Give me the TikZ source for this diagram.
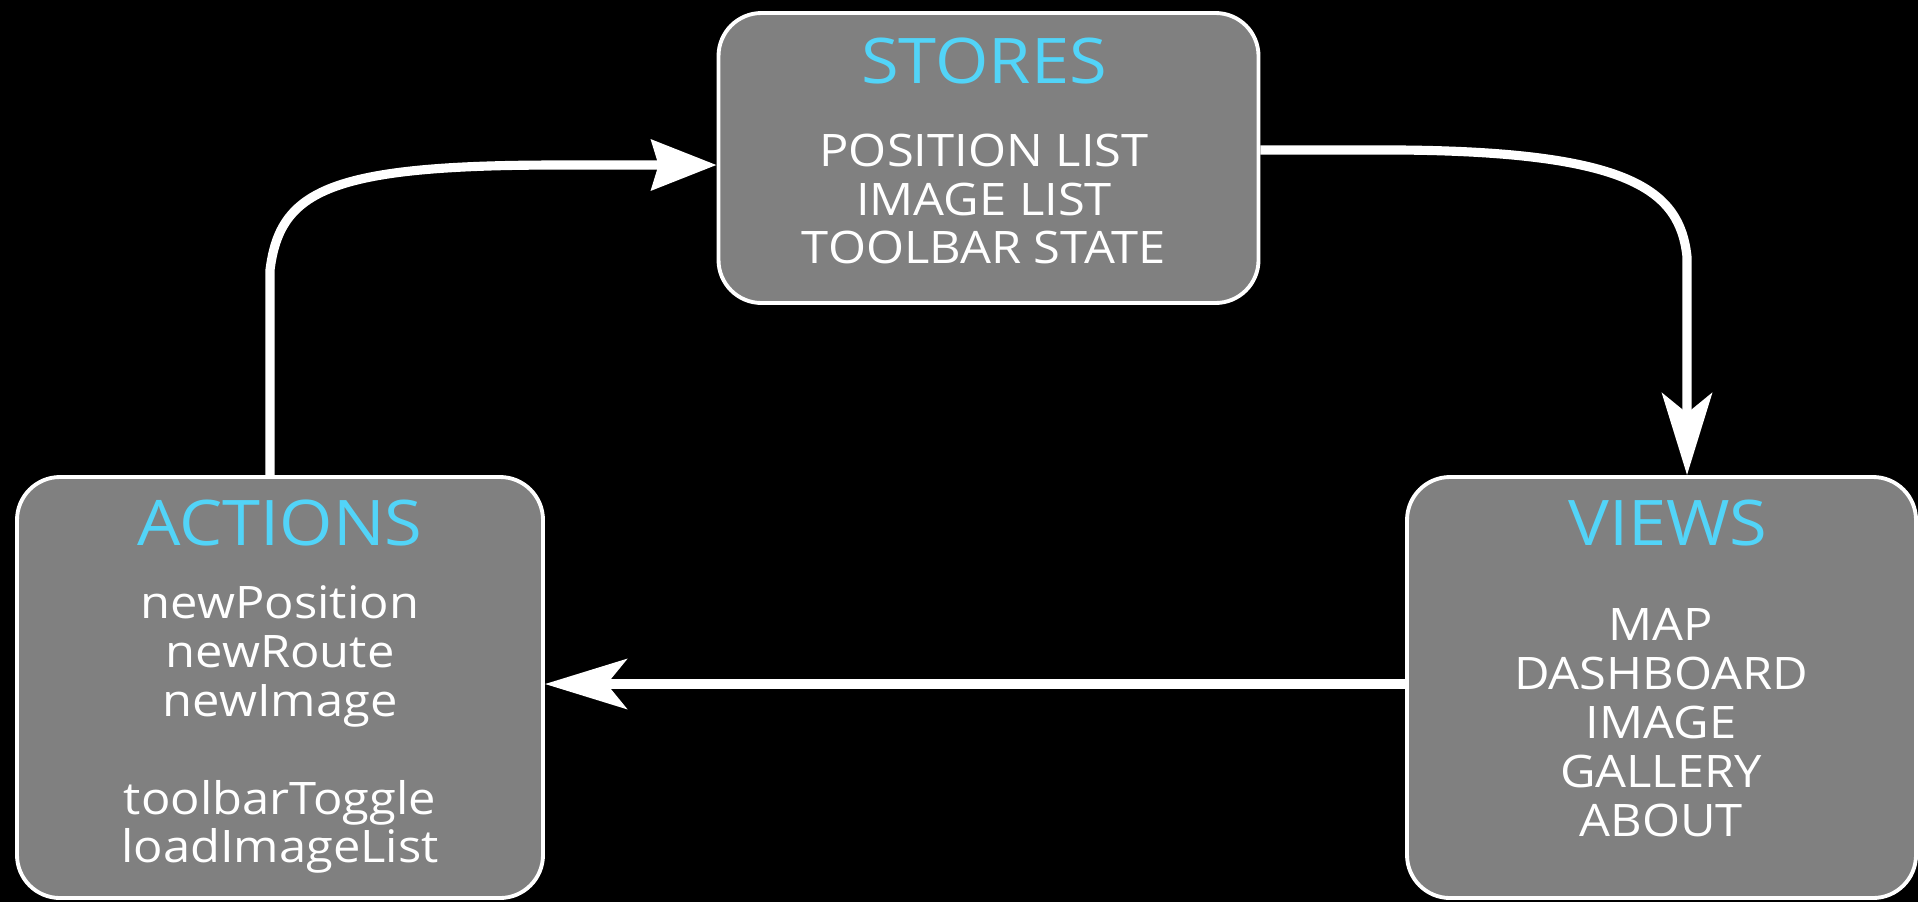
\documentclass[tikz,border=0pt]{standalone}
\usepackage{fontspec}
\setmainfont{Open Sans}[FakeStretch=1.09]
\usetikzlibrary{arrows.meta}

\definecolor{boxgray}{RGB}{128,128,128}
\definecolor{titlecyan}{RGB}{82,212,248}

\begin{document}
\begin{tikzpicture}[
    box/.style={draw=white, line width=1.1pt, fill=boxgray, rounded corners=0.43cm, inner sep=0pt},
    title/.style={text=titlecyan, font=\fontsize{17.9pt}{21pt}\selectfont, inner sep=0pt, anchor=base},
    body/.style={text=white, font=\fontsize{12.75pt}{13.9pt}\selectfont, align=center, inner sep=0pt, anchor=north},
    flow/.style={white, line width=2.6pt},
    >={Stealth[length=23.3pt, width=14.2pt, inset=5.7pt]}
  ]

    % ==================================================
    % background
    % ==================================================
    \fill[black] (0,0) rectangle (19.18,9.02);
    \useasboundingbox (0,0) rectangle (19.18,9.02);

    % ==================================================
    % boxes
    % ==================================================
    \node[box, minimum width=5.40cm, minimum height=2.90cm] (stores) at (9.885,7.44) {};
    \node[box, minimum width=5.26cm, minimum height=4.21cm] (actions) at (2.80,2.145) {};
    \node[box, minimum width=5.09cm, minimum height=4.21cm] (views) at (16.615,2.145) {};

    % titles
    \node[title] (storestitle) at (9.84,8.19) {STORES};
    \node[title] (actionstitle) at (2.80,3.57) {ACTIONS};
    \node[title] (viewstitle) at (16.68,3.57) {VIEWS};

    % contents
    \node[body] (storeslist) at (9.84,7.69)
      {POSITION LIST\\IMAGE LIST\\TOOLBAR STATE};
    \node[body] (actionslist) at (2.80,3.17)
      {newPosition\\newRoute\\newImage\\[13.9pt]toolbarToggle\\loadImageList};
    \node[body] (viewslist) at (16.61,2.94)
      {MAP\\DASHBOARD\\IMAGE\\GALLERY\\ABOUT};

    % ==================================================
    % connectors
    % ==================================================

    % ACTIONS -> STORES
    \draw[flow, -{Stealth[length=18.5pt, width=14.2pt, inset=2pt]}]
      ([xshift=-0.10cm]actions.north) -- (2.70,6.32)
      .. controls (2.80,7.12) and (3.30,7.37) .. (5.60,7.37)
      -- ([yshift=-0.07cm]stores.west);

    % STORES -> VIEWS
    \draw[flow, ->]
      ([yshift=0.08cm]stores.east) -- (14.00,7.52)
      .. controls (16.30,7.50) and (16.80,7.12) .. (16.87,6.45)
      -- ([xshift=0.255cm]views.north);

    % VIEWS -> ACTIONS
    \draw[flow, ->] ([yshift=0.035cm]views.west) -- ([yshift=0.035cm]actions.east);

\end{tikzpicture}
\end{document}
